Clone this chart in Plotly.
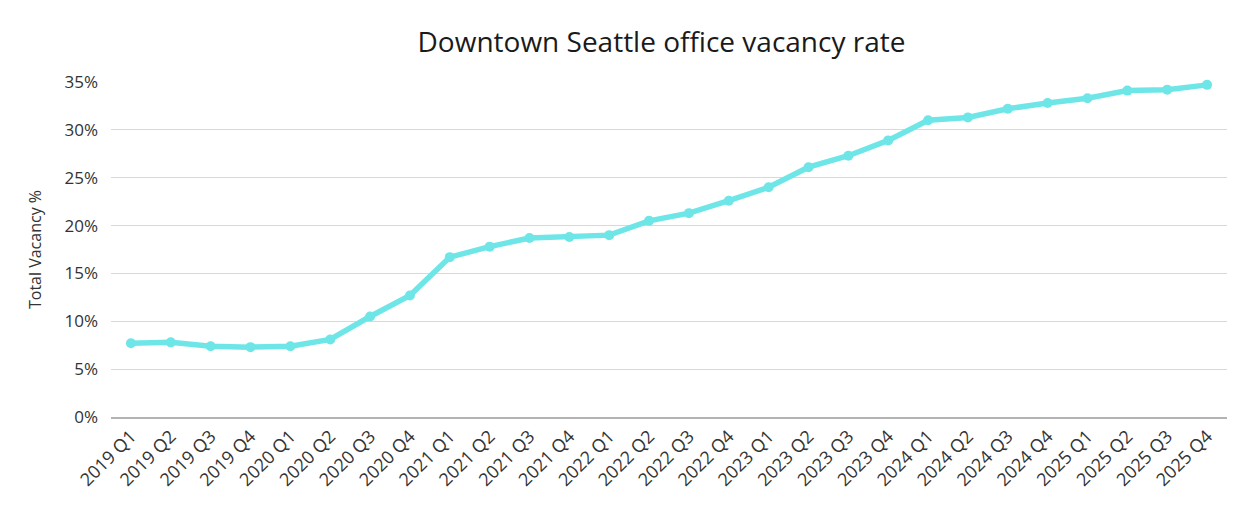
import plotly.graph_objects as go

quarters = [
    "2019 Q1", "2019 Q2", "2019 Q3", "2019 Q4",
    "2020 Q1", "2020 Q2", "2020 Q3", "2020 Q4",
    "2021 Q1", "2021 Q2", "2021 Q3", "2021 Q4",
    "2022 Q1", "2022 Q2", "2022 Q3", "2022 Q4",
    "2023 Q1", "2023 Q2", "2023 Q3", "2023 Q4",
    "2024 Q1", "2024 Q2", "2024 Q3", "2024 Q4",
    "2025 Q1", "2025 Q2", "2025 Q3", "2025 Q4",
]
vacancy = [
    7.7, 7.8, 7.4, 7.3,
    7.4, 8.1, 10.5, 12.7,
    16.7, 17.8, 18.7, 18.8,
    19.0, 20.5, 21.3, 22.6,
    24.0, 26.1, 27.3, 28.9,
    31.0, 31.3, 32.2, 32.8,
    33.3, 34.1, 34.2, 34.7,
]
y_ticks = [0, 5, 10, 15, 20, 25, 30, 35]
y_tick_labels = ["0%", "5%", "10%", "15%", "20%", "25%", "30%", "35%"]

FONT = "Open Sans"
LINE = "#6ee6e8"

fig = go.Figure()
fig.add_trace(go.Scatter(
    x=quarters, y=vacancy, mode="lines+markers",
    line=dict(color=LINE, width=5.5),
    marker=dict(color=LINE, size=10),
    cliponaxis=False,
    hoverinfo="x+y",
))

# the page body adds an 8px offset; margins compensate for it
fig.update_layout(
    width=1260, height=525,
    margin=dict(l=103, r=41, t=74, b=116, autoexpand=False),
    paper_bgcolor="white", plot_bgcolor="white",
    showlegend=False,
    title=dict(text="Downtown Seattle office vacancy rate",
               x=(661.5 - 8) / 1260, xanchor="center", y=1 - 34 / 525, yanchor="middle",
               font=dict(family=FONT, size=28, color="#1a1a1a")),
    font=dict(family=FONT, color="#333333"),
)
fig.update_xaxes(
    type="category", range=[-0.5, len(quarters) - 0.5],
    tickangle=-45, tickfont=dict(family=FONT, size=18, color="#333333"),
    showgrid=False, showline=True, linecolor="#b3b3b3", linewidth=1.5,
    ticks="", ticklen=0, automargin=False,
)
fig.update_yaxes(
    range=[0, 35], tickvals=y_ticks, ticktext=y_tick_labels,
    tickfont=dict(family=FONT, size=17, color="#333333"),
    showgrid=True, gridcolor="#d9d9d9", gridwidth=1,
    zeroline=False, showline=False, ticks="", ticklabelstandoff=12,
    automargin=False,
    title=dict(text="Total Vacancy %", font=dict(family=FONT, size=16, color="#333333"), standoff=18),
)

fig.write_html("out.html")
